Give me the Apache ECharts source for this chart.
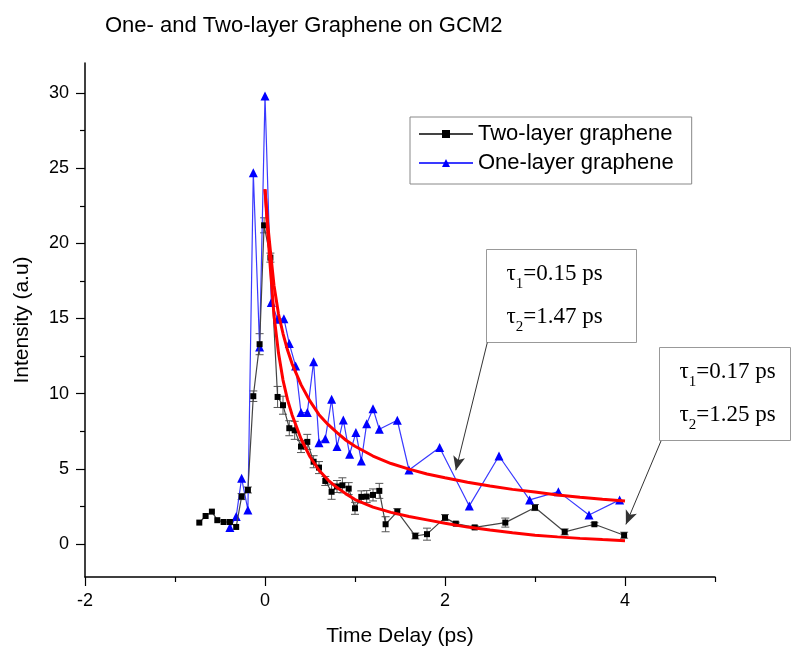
<!DOCTYPE html>
<html><head><meta charset="utf-8">
<script src="https://cdn.jsdelivr.net/npm/echarts@6/dist/echarts.min.js"></script>
<style>html,body{margin:0;padding:0;background:#fff}#c{width:797px;height:648px}</style>
</head><body><div id="c"></div>
<script>
// ---- data ----
const titleText = 'One- and Two-layer Graphene on GCM2';
const xName = 'Time Delay (ps)';
const yName = 'Intensity (a.u)';
const seriesNames = ['Two-layer graphene', 'One-layer graphene'];

const twoX = [-0.73,-0.66,-0.59,-0.53,-0.46,-0.39,-0.32,-0.26,-0.19,-0.13,-0.06,-0.01,0.06,0.14,0.20,0.27,0.33,0.40,0.47,0.54,0.60,0.67,0.74,0.80,0.86,0.93,1.00,1.07,1.13,1.20,1.27,1.34,1.47,1.67,1.80,2.00,2.12,2.33,2.67,3.00,3.33,3.66,3.99];
const twoY = [1.42,1.86,2.15,1.58,1.46,1.46,1.13,3.15,3.59,9.83,13.29,21.2,19.05,9.78,9.23,7.70,7.56,6.48,6.79,5.47,5.08,4.19,3.47,3.82,3.90,3.68,2.37,3.13,3.15,3.26,3.53,1.31,2.15,0.53,0.65,1.75,1.35,1.10,1.42,2.42,0.80,1.31,0.58];
const twoErr = [0,0,0,0,0,0,0,0.2,0.2,0.35,0.7,0.5,0.3,0.7,0.6,0.5,0.6,0.4,0.5,0.4,0.4,0.3,0.5,0.4,0.5,0.4,0.4,0.4,0.4,0.4,0.5,0.5,0.2,0.2,0.4,0.2,0.1,0.1,0.3,0.2,0.2,0.1,0.2];

const oneX = [-0.39,-0.32,-0.26,-0.19,-0.13,-0.06,0.00,0.07,0.14,0.21,0.27,0.34,0.40,0.47,0.54,0.60,0.67,0.74,0.80,0.87,0.94,1.01,1.07,1.13,1.20,1.27,1.47,1.60,1.94,2.27,2.60,2.94,3.26,3.60,3.94];
const oneY = [1.09,1.82,4.37,2.26,24.7,13.1,29.8,16.06,14.95,14.99,13.33,11.84,8.74,8.74,12.13,6.74,7.00,9.62,6.48,8.25,5.97,7.41,5.52,8.00,9.00,7.63,8.23,4.92,6.41,2.53,5.85,2.93,3.48,1.93,2.93];

const fitX    = [0.0,0.03,0.06,0.1,0.15,0.2,0.25,0.3,0.4,0.5,0.6,0.7,0.8,0.9,1.0,1.2,1.4,1.6,1.8,2.0,2.25,2.5,2.75,3.0,3.25,3.5,3.75,4.0];
const fitOneY = [23.6,21.3,19.5,17.2,15.3,14.0,12.9,12.0,10.6,9.5,8.6,7.95,7.4,6.9,6.5,5.85,5.35,4.98,4.65,4.4,4.1,3.85,3.63,3.45,3.26,3.1,2.97,2.85];
const fitTwoY = [23.6,20.8,18.3,15.2,12.7,10.9,9.6,8.6,7.0,5.8,4.9,4.25,3.75,3.33,2.95,2.45,2.1,1.82,1.6,1.38,1.12,0.92,0.74,0.58,0.47,0.37,0.29,0.22];

const xMajorTicks = [-2,0,2,4];
const xMinorTicks = [-1,1,3,5];
const yMajorTicks = [0,5,10,15,20,25,30];
const yMinorTicks = [2.5,7.5,12.5,17.5,22.5,27.5];

const fitLabels = [['0.15','1.47'],['0.17','1.25']];
const arrowFrom = [[2.47,13.4],[4.4,6.85]];
const arrowTo   = [[2.12,4.9],[4.01,1.3]];

// ---- chart ----
const chart = echarts.init(document.getElementById('c'), null, {renderer:'canvas'});
const SANS = 'Liberation Sans, Arial, sans-serif';
const SERIF = 'Liberation Serif, Times New Roman, serif';

function pairs(xs, ys){ return xs.map((x,i)=>[x, ys[i]]); }
const errData = twoX.map((x,i)=>[x, twoY[i]-twoErr[i], twoY[i]+twoErr[i]]).filter((d,i)=>twoErr[i]>0);

function tauText(v, sub){
  return '{a|τ}{b|' + sub + '}{a|=' + v + ' ps}';
}
const rich = {
  a: {fontFamily: SERIF, fontSize: 23, fill: '#000'},
  b: {fontFamily: SERIF, fontSize: 15, fill: '#000', padding: [22,0,0,0]}
};
function box(left, top, w, h, textLeft, vals){
  return {
    type: 'group', left: left, top: top,
    children: [
      {type:'rect', shape:{x:0,y:0,width:w,height:h}, style:{fill:'#fff', stroke:'#999', lineWidth:1}},
      {type:'text', x: textLeft, y: 24, style:{text: tauText(vals[0],'1'), rich: rich, verticalAlign:'middle', align:'left'}},
      {type:'text', x: textLeft, y: 67, style:{text: tauText(vals[1],'2'), rich: rich, verticalAlign:'middle', align:'left'}}
    ]
  };
}

const option = {
  animation: false,
  backgroundColor: '#fff',
  title: {
    text: titleText, left: 100, top: 10,
    textStyle: {fontFamily: SANS, fontSize: 22, fontWeight: 'normal', color: '#000'}
  },
  legend: {
    data: seriesNames, orient: 'vertical', left: 410, top: 117,
    borderColor: '#888', borderWidth: 1, padding: [6,18,10,8],
    itemWidth: 54, itemHeight: 10, itemGap: 7,
    textStyle: {fontFamily: SANS, fontSize: 22, color: '#000'}
  },
  grid: {left: 85, right: 82, top: 63, bottom: 71, containLabel: false, outerBoundsMode: 'none'},
  xAxis: [{
    type: 'value', min: -2, max: 5, position: 'bottom',
    name: xName, nameLocation: 'middle', nameGap: 49,
    nameTextStyle: {fontFamily: SANS, fontSize: 21, color: '#000'},
    axisLine: {onZero: false, lineStyle: {color: '#000', width: 1.5}},
    axisTick: {customValues: xMajorTicks, length: 9, lineStyle: {color: '#000', width: 1.2}},
    axisLabel: {customValues: xMajorTicks, fontFamily: SANS, fontSize: 18, color: '#000', margin: 15},
    splitLine: {show: false}
  }, {
    type: 'value', min: -2, max: 5, position: 'bottom',
    axisLine: {show: false, onZero: false},
    axisTick: {customValues: xMinorTicks, length: 5, lineStyle: {color: '#000', width: 1.2}},
    axisLabel: {show: false}, splitLine: {show: false}
  }],
  yAxis: [{
    type: 'value', min: -2.2, max: 32, position: 'left',
    name: yName, nameLocation: 'middle', nameGap: 52,
    nameTextStyle: {fontFamily: SANS, fontSize: 21, color: '#000'},
    axisLine: {onZero: false, lineStyle: {color: '#000', width: 1.5}},
    axisTick: {customValues: yMajorTicks, length: 9, lineStyle: {color: '#000', width: 1.2}},
    axisLabel: {customValues: yMajorTicks, fontFamily: SANS, fontSize: 18, color: '#000', margin: 16},
    splitLine: {show: false}
  }, {
    type: 'value', min: -2.2, max: 32, position: 'left',
    axisLine: {show: false, onZero: false},
    axisTick: {customValues: yMinorTicks, length: 5, lineStyle: {color: '#000', width: 1.2}},
    axisLabel: {show: false}, splitLine: {show: false}
  }],
  series: [
    {
      name: seriesNames[0], type: 'line', data: pairs(twoX, twoY), z: 4,
      symbol: 'rect', symbolSize: 6,
      itemStyle: {color: '#000'},
      lineStyle: {color: '#444', width: 1.2}
    },
    {
      name: seriesNames[1], type: 'line', data: pairs(oneX, oneY), z: 3,
      symbol: 'triangle', symbolSize: 9,
      itemStyle: {color: '#0000ff'},
      lineStyle: {color: '#3a3aff', width: 1.2}
    },
    {
      type: 'custom', data: errData, z: 3,
      encode: {x: 0, y: [1,2]},
      renderItem: function(params, api){
        const x = api.value(0);
        const lo = api.coord([x, api.value(1)]);
        const hi = api.coord([x, api.value(2)]);
        const hw = 4;
        const st = {stroke: '#555', lineWidth: 1};
        return {type: 'group', children: [
          {type:'line', shape:{x1:lo[0],y1:lo[1],x2:hi[0],y2:hi[1]}, style: st},
          {type:'line', shape:{x1:lo[0]-hw,y1:lo[1],x2:lo[0]+hw,y2:lo[1]}, style: st},
          {type:'line', shape:{x1:hi[0]-hw,y1:hi[1],x2:hi[0]+hw,y2:hi[1]}, style: st}
        ]};
      }
    },
    {
      type: 'line', data: pairs(fitX, fitOneY), z: 5, symbol: 'none',
      smooth: false,
      lineStyle: {color: '#ff0000', width: 3},
      markLine: {
        silent: true, symbol: ['none','arrow'], symbolSize: [9,14],
        lineStyle: {color: '#333', width: 1, type: 'solid'},
        label: {show: false},
        data: arrowFrom.map((f,i)=>[{coord: f}, {coord: arrowTo[i]}])
      }
    },
    {
      type: 'line', data: pairs(fitX, fitTwoY), z: 5, symbol: 'none',
      smooth: false,
      lineStyle: {color: '#ff0000', width: 3}
    }
  ],
  graphic: [
    box(486, 249, 150, 93, 20, fitLabels[0]),
    box(659, 347, 131, 93, 20, fitLabels[1])
  ]
};
chart.setOption(option);
</script></body></html>
